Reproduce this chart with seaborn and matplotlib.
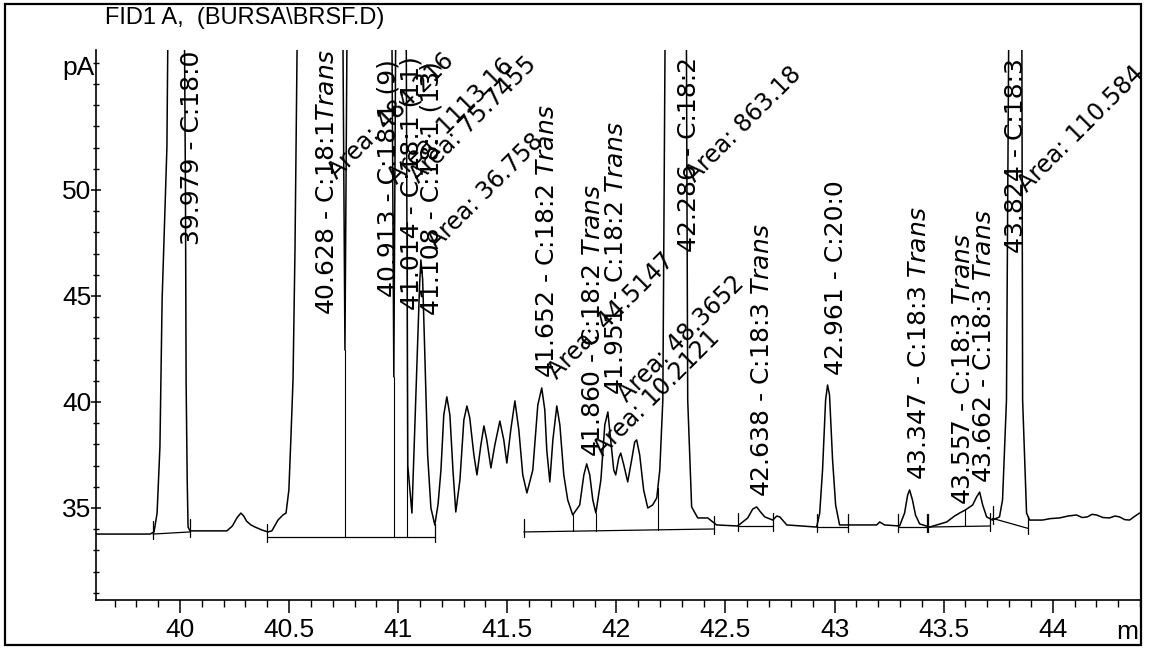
import numpy as np
import pandas as pd
import matplotlib
matplotlib.use("Agg")
import matplotlib.pyplot as plt
from matplotlib.patches import Rectangle
from matplotlib.ticker import MultipleLocator, FixedLocator, FuncFormatter
import seaborn as sns

# ------------------------------------------------------------------ data
# digitised FID trace (retention time in min, signal in pA); off-scale peak
# tops are given a value above the plotted range
trace_time = [
    39.615, 39.863, 39.881, 39.895, 39.908, 39.918, 39.940, 39.945, 39.979, 40.020,
    40.025, 40.028, 40.033, 40.037, 40.046, 40.215, 40.240, 40.262, 40.279, 40.292,
    40.305, 40.325, 40.344, 40.376, 40.403, 40.421, 40.449, 40.472, 40.486, 40.499,
    40.508, 40.518, 40.527, 40.540, 40.628, 40.745, 40.756, 40.767, 40.913, 40.970,
    40.980, 40.990, 41.014, 41.036, 41.044, 41.063, 41.072, 41.090, 41.098, 41.104,
    41.112, 41.120, 41.135, 41.150, 41.168, 41.183, 41.196, 41.209, 41.223, 41.237,
    41.251, 41.264, 41.283, 41.301, 41.315, 41.328, 41.347, 41.361, 41.379, 41.393,
    41.406, 41.425, 41.443, 41.466, 41.484, 41.498, 41.516, 41.535, 41.553, 41.571,
    41.590, 41.617, 41.640, 41.658, 41.672, 41.681, 41.695, 41.709, 41.727, 41.741,
    41.759, 41.777, 41.800, 41.832, 41.851, 41.864, 41.878, 41.892, 41.906, 41.929,
    41.947, 41.961, 41.974, 41.988, 41.997, 42.011, 42.020, 42.034, 42.052, 42.070,
    42.084, 42.093, 42.107, 42.125, 42.144, 42.166, 42.185, 42.199, 42.213, 42.225,
    42.286, 42.320, 42.327, 42.345, 42.373, 42.419, 42.442, 42.460, 42.556, 42.602,
    42.625, 42.643, 42.661, 42.680, 42.717, 42.735, 42.749, 42.781, 42.918, 42.932,
    42.945, 42.959, 42.968, 42.977, 42.991, 43.005, 43.023, 43.193, 43.207, 43.229,
    43.298, 43.321, 43.335, 43.344, 43.357, 43.371, 43.390, 43.436, 43.514, 43.550,
    43.573, 43.600, 43.633, 43.651, 43.665, 43.679, 43.697, 43.724, 43.756, 43.770,
    43.788, 43.800, 43.824, 43.858, 43.862, 43.880, 43.894, 43.953, 43.990, 44.031,
    44.070, 44.109, 44.135, 44.159, 44.180, 44.201, 44.230, 44.260, 44.285, 44.306,
    44.330, 44.352, 44.375, 44.398,
]
trace_signal = [
    33.77, 33.77, 33.87, 34.76, 37.88, 44.81, 52.00, 58.00, 62.00, 58.00,
    50.00, 41.00, 36.32, 34.10, 33.92, 33.92, 34.15, 34.55, 34.76, 34.62,
    34.38, 34.20, 34.10, 33.96, 33.87, 33.92, 34.43, 34.67, 34.76, 35.85,
    38.21, 41.04, 47.17, 60.00, 70.00, 60.00, 42.45, 60.00, 70.00, 60.00,
    41.18, 60.00, 66.00, 60.00, 37.00, 34.76, 37.50, 43.00, 45.50, 46.70,
    45.80, 43.00, 37.50, 35.00, 34.20, 35.20, 36.79, 39.39, 40.24, 39.39,
    36.79, 34.81, 36.32, 39.15, 39.81, 39.25, 37.50, 36.56, 37.97, 38.87,
    38.21, 36.89, 37.97, 39.10, 38.21, 37.12, 38.68, 40.05, 38.68, 36.56,
    35.71, 36.79, 39.86, 40.66, 39.62, 37.74, 36.23, 38.21, 39.81, 38.92,
    36.56, 35.38, 34.67, 35.14, 36.56, 37.08, 36.56, 35.38, 34.76, 36.32,
    38.92, 39.53, 38.21, 36.79, 36.56, 37.36, 37.59, 37.03, 36.23, 37.26,
    38.11, 38.21, 37.50, 35.85, 35.00, 35.14, 35.47, 36.79, 40.09, 60.00,
    70.00, 60.00, 40.09, 35.05, 34.53, 34.53, 34.34, 34.20, 34.15, 34.53,
    34.95, 35.05, 34.81, 34.58, 34.43, 34.62, 34.58, 34.20, 34.10, 34.76,
    36.79, 40.09, 40.80, 40.33, 37.26, 35.14, 34.20, 34.20, 34.34, 34.20,
    34.15, 34.76, 35.61, 35.85, 35.38, 34.67, 34.25, 34.10, 34.34, 34.62,
    34.76, 34.91, 35.14, 35.52, 35.75, 35.14, 34.58, 34.43, 34.58, 35.38,
    40.09, 60.00, 70.00, 60.00, 40.09, 34.76, 34.43, 34.43, 34.50, 34.53,
    34.62, 34.67, 34.55, 34.58, 34.70, 34.67, 34.55, 34.53, 34.62, 34.58,
    34.45, 34.43, 34.60, 34.76,
]

# peak annotations
peak_rt = [39.979, 40.628, 40.913, 41.014, 41.108, 41.652, 41.860, 41.951,
           42.286, 42.638, 42.961, 43.347, 43.557, 43.662, 43.824]
peak_name = ["C:18:0", "C:18:1$\\mathit{Trans}$", "C:18:1 (9)", "C:18:1 (11)",
             "C:18:1 (13)", "C:18:2 $\\mathit{Trans}$", "C:18:2 $\\mathit{Trans}$",
             "C:18:2 $\\mathit{Trans}$", "C:18:2", "C:18:3 $\\mathit{Trans}$",
             "C:20:0", "C:18:3 $\\mathit{Trans}$", "C:18:3 $\\mathit{Trans}$",
             "C:18:3 $\\mathit{Trans}$", "C:18:3"]

area_rt = [40.628, 40.913, 41.014, 41.108, 41.652, 41.860, 41.951, 42.286, 43.824]
area_value = ["484.216", "1113.16", "75.7455", "36.758", "44.5147", "10.2121",
              "48.3652", "863.18", "110.584"]

# integration baselines (start time, start pA, end time, end pA)
base_t0 = [39.876, 40.399, 41.576, 42.556, 42.918, 43.289, 43.422, 43.724]
base_y0 = [33.77, 33.63, 33.87, 34.15, 34.10, 34.10, 34.10, 34.51]
base_t1 = [40.046, 41.168, 42.446, 42.717, 43.060, 43.427, 43.711, 43.886]
base_y1 = [33.87, 33.63, 34.01, 34.15, 34.10, 34.10, 34.15, 34.04]
drop_t = [40.756, 40.980, 41.040, 41.800, 41.906, 42.190, 43.600]

x_ticks = [40, 40.5, 41, 41.5, 42, 42.5, 43, 43.5, 44]
y_ticks = [35, 40, 45, 50]

# ------------------------------------------------------------ layout only
rt_label_x = [40.087, 40.705, 40.989, 41.095, 41.186, 41.713, 41.924, 42.029,
              42.364, 42.698, 43.037, 43.417, 43.623, 43.715, 43.866]
rt_label_y = [47.41, 44.10, 44.95, 44.34, 44.10, 41.13, 37.41, 40.33,
              47.08, 35.52, 41.27, 36.32, 35.14, 36.18, 47.03]
area_label_x = [40.719, 40.994, 41.095, 41.177, 41.727, 41.938, 42.048, 42.359, 43.880]
area_label_y = [50.47, 50.24, 50.28, 47.17, 41.04, 37.41, 39.95, 50.33, 49.86]

# ------------------------------------------------------------------ plot
sns.set_theme(style="white")
plt.rcParams["font.family"] = ["Liberation Sans", "DejaVu Sans"]
plt.rcParams["mathtext.fontset"] = "dejavusans"

W, H = 1152, 651
fig = plt.figure(figsize=(W / 100, H / 100), dpi=100)
fig.patch.set_facecolor("white")
ax = fig.add_axes([96 / W, 51 / H, 1044 / W, 550 / H])
ax.set_facecolor("white")

df = pd.DataFrame({"time": trace_time, "signal": trace_signal})
sns.lineplot(data=df, x="time", y="signal", sort=False, estimator=None,
             color="black", lw=1.1, ax=ax)

# integration baselines and start/stop marks
for t0, y0, t1, y1 in zip(base_t0, base_y0, base_t1, base_y1):
    ax.plot([t0, t1], [y0, y1], color="black", lw=0.9)
    for tt, yy in ((t0, y0), (t1, y1)):
        ax.plot([tt, tt], [yy - 0.25, yy + 0.6], color="black", lw=0.9)

# drop lines from baseline to signal
for td in drop_t:
    for t0, y0, t1, y1 in zip(base_t0, base_y0, base_t1, base_y1):
        if t0 <= td <= t1:
            yb = y0 + (y1 - y0) * (td - t0) / (t1 - t0)
            ys = float(np.interp(td, trace_time, trace_signal))
            ax.plot([td, td], [yb, ys], color="black", lw=0.8)
            break

ax.set_xlim(39.615, 44.40)
ax.set_ylim(30.66, 56.6)
ax.set_xlabel("")
ax.set_ylabel("")

# outer frame
frame = Rectangle((5 / W, 6 / H), 1136 / W, 641 / H, transform=fig.transFigure,
                  fill=False, edgecolor="black", lw=1.6)
fig.add_artist(frame)

# rotated retention-time labels
for rt, name, lx, ly in zip(peak_rt, peak_name, rt_label_x, rt_label_y):
    t = ax.text(lx, ly, f"{rt:.3f} - {name}", rotation=90, rotation_mode="anchor",
                ha="left", va="baseline", fontsize=18, family="DejaVu Sans",
                color="black", clip_on=True)
    t.set_clip_path(frame)

# 45 degree area labels
for val, lx, ly in zip(area_value, area_label_x, area_label_y):
    t = ax.text(lx, ly, f"Area: {val}", rotation=45, rotation_mode="anchor",
                ha="left", va="baseline", fontsize=17, family="DejaVu Sans",
                color="black", clip_on=True)
    t.set_clip_path(frame)

# axes styling
for s in ("top", "right"):
    ax.spines[s].set_visible(False)
for s in ("left", "bottom"):
    ax.spines[s].set_color("black")
    ax.spines[s].set_linewidth(1.2)

ax.xaxis.set_major_locator(FixedLocator(x_ticks))
ax.xaxis.set_minor_locator(MultipleLocator(0.1))
ax.xaxis.set_major_formatter(FuncFormatter(lambda v, p: f"{v:g}"))
ax.yaxis.set_major_locator(FixedLocator(y_ticks))
ax.yaxis.set_minor_locator(MultipleLocator(1))
ax.yaxis.set_major_formatter(FuncFormatter(lambda v, p: f"{v:g}"))
ax.tick_params(axis="x", which="major", direction="out", length=9, width=1.1,
               labelsize=19, pad=4, colors="black", bottom=True)
ax.tick_params(axis="x", which="minor", direction="out", length=5, width=1.0,
               bottom=True, colors="black")
ax.tick_params(axis="y", which="major", direction="inout", length=7, width=1.1,
               labelsize=19, pad=0, colors="black", left=True)
ax.tick_params(axis="y", which="minor", direction="inout", length=5, width=1.0,
               left=True, colors="black")
ax.grid(False)

fig.text(105 / W, 1 - 18 / H, "FID1 A,  (BURSA\\BRSF.D)", fontsize=17,
         va="center", ha="left", color="black")
fig.text(62 / W, 1 - 68 / H, "pA", fontsize=19, va="center", ha="left", color="black")
fig.text(1116 / W, 1 - 632 / H, "m", fontsize=19, va="center", ha="left",
         color="black")

fig.savefig("out.png", dpi=100, facecolor="white")
